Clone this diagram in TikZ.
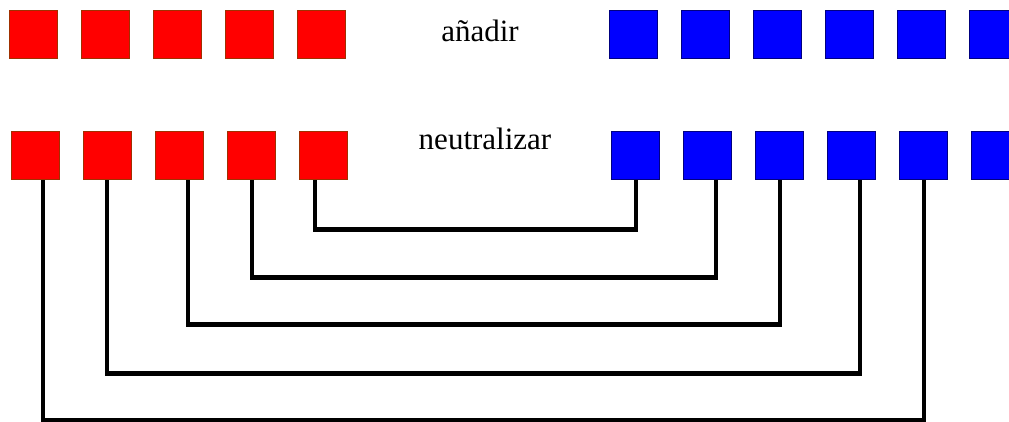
\documentclass[tikz,border=0pt]{standalone}
\usepackage{fontspec}
\setmainfont{Liberation Serif}
\usetikzlibrary{positioning}

\definecolor{redborder}{RGB}{160,48,0}
\definecolor{blueborder}{RGB}{0,0,128}

\begin{document}
\begin{tikzpicture}[
    x=1pt, y=-1pt,
    node distance=72pt,
    redsq/.style={
		rectangle,
		draw=redborder,
		line width=1.5pt,
		fill=red,
		minimum size=48pt,
		inner sep=0pt
	},
    bluesq/.style={
		redsq,
		draw=blueborder,
		fill=blue
	},
	lbl/.style={
		anchor=base,
		inner sep=0pt,
		font=\fontsize{31}{36}\selectfont
	},
	link/.style={
		draw=black,
		line width=4.5pt
	}
  ]
  \useasboundingbox (0,0) rectangle (1009,422);
  \clip (0,0) rectangle (1009,422);

    % first row: add
  \node [redsq] (ar1) at (33.5,34.5) {};
  \node [redsq, right of=ar1] (ar2) {};
  \node [redsq, right of=ar2] (ar3) {};
  \node [redsq, right of=ar3] (ar4) {};
  \node [redsq, right of=ar4] (ar5) {};

  \node [bluesq] (ab1) at (633.5,34.5) {};
  \node [bluesq, right of=ab1] (ab2) {};
  \node [bluesq, right of=ab2] (ab3) {};
  \node [bluesq, right of=ab3] (ab4) {};
  \node [bluesq, right of=ab4] (ab5) {};
  \node [bluesq, right of=ab5] (ab6) {};

  \node [lbl] (add) at (480,41.5) {añadir};

    % second row: neutralize
  \node [redsq] (nr1) at (35.5,155.5) {};
  \node [redsq, right of=nr1] (nr2) {};
  \node [redsq, right of=nr2] (nr3) {};
  \node [redsq, right of=nr3] (nr4) {};
  \node [redsq, right of=nr4] (nr5) {};

  \node [bluesq] (nb1) at (635.5,155.5) {};
  \node [bluesq, right of=nb1] (nb2) {};
  \node [bluesq, right of=nb2] (nb3) {};
  \node [bluesq, right of=nb3] (nb4) {};
  \node [bluesq, right of=nb4] (nb5) {};
  \node [bluesq, right of=nb5] (nb6) {};

  \node [lbl] (neutral) at (485,150) {neutralizar};

    % pairs, innermost first
  \draw [link] ([xshift=-8.5pt]nr5.south) -- ++(0,49) -| ([xshift=0.5pt]nb1.south);
  \draw [link] ([xshift=0.5pt]nr4.south) -- ++(0,97) -| ([xshift=8.5pt]nb2.south);
  \draw [link] ([xshift=8.5pt]nr3.south) -- ++(0,144) -| ([xshift=0.5pt]nb3.south);
  \draw [link] ([xshift=-0.5pt]nr2.south) -- ++(0,193) -| ([xshift=8.5pt]nb4.south);
  \draw [link] ([xshift=7.5pt]nr1.south) -- ++(0,240) -| ([xshift=0.5pt]nb5.south);

\end{tikzpicture}
\end{document}
